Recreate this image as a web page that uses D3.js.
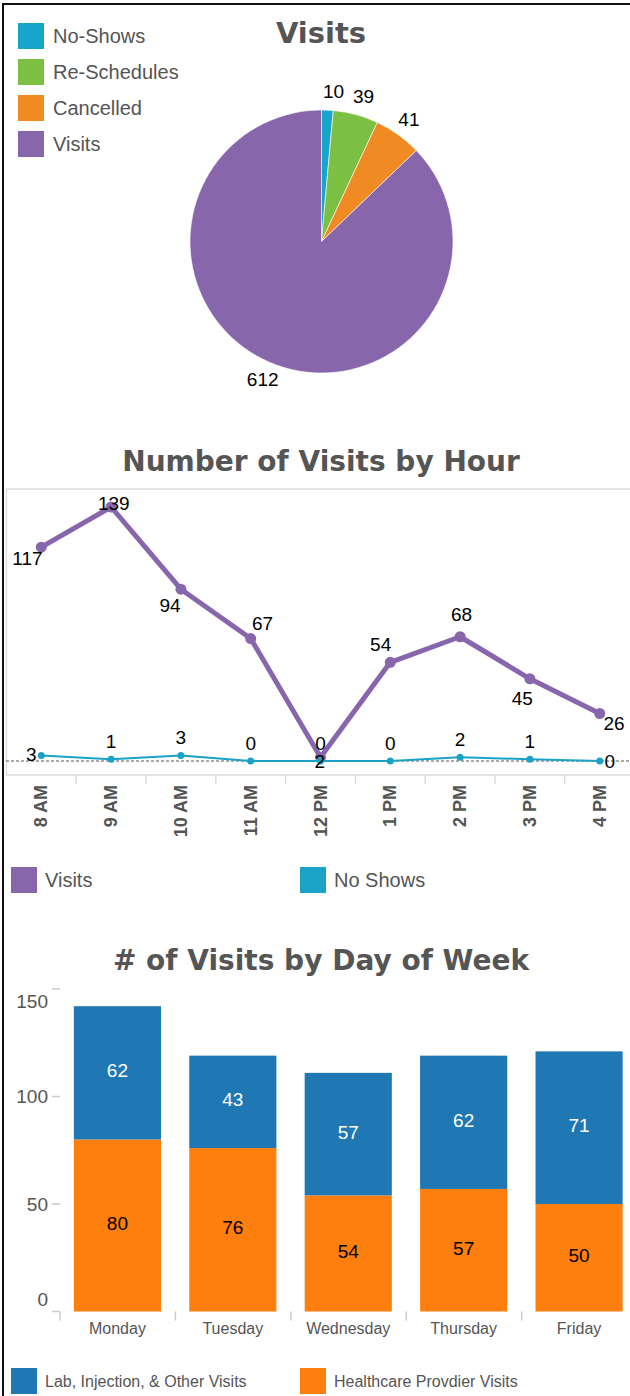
<!DOCTYPE html>
<html><head><meta charset="utf-8">
<script src="https://cdn.jsdelivr.net/npm/d3@7"></script>
<style>
body{margin:0;background:#fff;}
svg{display:block;font-family:"Liberation Sans",Arial,sans-serif;}
.title{font-family:"DejaVu Sans",Verdana,sans-serif;font-weight:bold;fill:#555;}
</style></head><body>
<svg id="c" width="630" height="1396"></svg>
<script>
// ---------- data ----------
const pieCategories = ["No-Shows","Re-Schedules","Cancelled","Visits"];
const pieValues = [10,39,41,612];
const pieColors = ["#17a6c9","#7bbf43","#ef8b22","#8866ab"];

const hours = ["8 AM","9 AM","10 AM","11 AM","12 PM","1 PM","2 PM","3 PM","4 PM"];
const visitsByHour = [117,139,94,67,2,54,68,45,26];
const noShowsByHour = [3,1,3,0,0,0,2,1,0];
const lineSeriesNames = ["Visits","No Shows"];
const lineColors = ["#8866ab","#1aa3c7"];

const days = ["Monday","Tuesday","Wednesday","Thursday","Friday"];
const providerVisits = [80,76,54,57,50];
const labVisits = [62,43,57,62,71];
const barSeriesNames = ["Lab, Injection, & Other Visits","Healthcare Provdier Visits"];
const barColors = ["#1f77b4","#ff7f0e"];
const dayTicks = [0,50,100,150];

const svg = d3.select("#c");
const grey = "#555";

// outer border
svg.append("rect").attr("x",3).attr("y",4).attr("width",700).attr("height",1500)
  .attr("fill","none").attr("stroke","#111").attr("stroke-width",2);

// ---------- Chart 1: pie ----------
svg.append("text").attr("class","title").attr("x",321).attr("y",33)
  .attr("text-anchor","middle").attr("dominant-baseline","central")
  .style("font-size","29px").text("Visits");

const pieData = pieCategories.map((c,i)=>({name:c,value:pieValues[i],color:pieColors[i]}));
const pie = d3.pie().sort(null).value(d=>d.value);
const arcs = pie(pieData);
const R = 131.5;
const arc = d3.arc().innerRadius(0).outerRadius(R);
const labelArc = d3.arc().innerRadius(150).outerRadius(150);
const pg = svg.append("g").attr("transform","translate(321.5,241.5)");
pg.selectAll("path").data(arcs).join("path")
  .attr("d",arc).attr("fill",d=>d.data.color).attr("stroke","#fff").attr("stroke-width",0.6);
// outside labels, nudged apart horizontally when neighbours are close
const labPos = arcs.map(d=>labelArc.centroid(d));
for(let i=1;i<labPos.length;i++){
  const a=labPos[i-1], b=labPos[i];
  if(Math.abs(a[1]-b[1])<20 && b[0]-a[0]<30 && b[0]>=a[0]){ a[0]-=0; b[0]=a[0]+30; }
}
if(labPos[0][0] < 12) { const s = 12-labPos[0][0]; labPos[0][0]+=s; labPos[1][0]=Math.max(labPos[1][0],labPos[0][0]+30); }
pg.selectAll("text").data(arcs).join("text")
  .attr("transform",(d,i)=>`translate(${labPos[i]})`)
  .attr("text-anchor","middle").attr("dominant-baseline","central")
  .style("font-size","19px").attr("fill","#000")
  .text(d=>d.data.value);

const lg1 = svg.append("g");
pieData.forEach((d,i)=>{
  const g = lg1.append("g").attr("transform",`translate(18,${23+i*36})`);
  g.append("rect").attr("width",26).attr("height",26).attr("fill",d.color);
  g.append("text").attr("x",35).attr("y",13).attr("dominant-baseline","central")
    .style("font-size","20px").attr("fill",grey).text(d.name);
});

// ---------- Chart 2: line by hour ----------
svg.append("text").attr("class","title").attr("x",321).attr("y",461)
  .attr("text-anchor","middle").attr("dominant-baseline","central")
  .style("font-size","28px").text("Number of Visits by Hour");

const plotTop = 489, plotBottom = 775;
const xH = d3.scaleBand().domain(hours).range([6.4,634.6]).padding(0);
const xc = h => xH(h)+xH.bandwidth()/2;
const yH = d3.scaleLinear().domain([0,d3.max(visitsByHour)]).range([761,507]);

svg.append("rect").attr("x",6.4).attr("y",plotTop).attr("width",700).attr("height",plotBottom-plotTop)
  .attr("fill","none").attr("stroke","#ddd").attr("stroke-width",1.5);

// tick marks between categories
svg.append("g").selectAll("line").data(hours.slice(1)).join("line")
  .attr("x1",d=>xH(d)).attr("x2",d=>xH(d)).attr("y1",plotBottom).attr("y2",plotBottom+9)
  .attr("stroke","#ddd").attr("stroke-width",1.5);
svg.append("g").selectAll("text").data(hours).join("text")
  .attr("transform",d=>`translate(${xc(d)},785) rotate(-90)`)
  .attr("text-anchor","end").attr("dominant-baseline","central")
  .style("font-size","18px").style("font-weight","bold").attr("fill",grey).text(d=>d);

// zero line
svg.append("line").attr("x1",6).attr("x2",630).attr("y1",yH(0)).attr("y2",yH(0))
  .attr("stroke","#555").attr("stroke-dasharray","3,2").attr("stroke-width",1);

const line = d3.line().x((d,i)=>xc(hours[i])).y(d=>yH(d));
const series = [
  {name:lineSeriesNames[0], values:visitsByHour, color:lineColors[0], w:5, r:5.5, rx:16, ry:22, upOnly:false},
  {name:lineSeriesNames[1], values:noShowsByHour, color:lineColors[1], w:2, r:3.5, rx:10, ry:18, upOnly:true}
];
series.forEach(s=>{
  svg.append("path").attr("d",line(s.values)).attr("fill","none")
    .attr("stroke",s.color).attr("stroke-width",s.w).attr("stroke-linejoin","round");
  svg.append("g").selectAll("circle").data(s.values).join("circle")
    .attr("cx",(d,i)=>xc(hours[i])).attr("cy",d=>yH(d)).attr("r",s.r).attr("fill",s.color);
});
// labels placed away from the line (exterior bisector), kept inside the value area
series.forEach(s=>{
  const pts = s.values.map((v,i)=>[xc(hours[i]),yH(v)]);
  const n = pts.length;
  const lab = svg.append("g");
  pts.forEach((p,i)=>{
    let sx=0, sy=0;
    [i-1,i+1].forEach(j=>{
      if(j<0||j>=n) return;
      const dx=pts[j][0]-p[0], dy=pts[j][1]-p[1], L=Math.hypot(dx,dy);
      sx+=dx/L; sy+=dy/L;
    });
    let ux=-sx, uy=-sy;
    const interior = i>0 && i<n-1;
    if(s.upOnly && interior){ ux=0; uy=-1; }
    const L=Math.hypot(ux,uy)||1; ux/=L; uy/=L;
    let lx=p[0]+ux*s.rx, ly=p[1]+uy*s.ry;
    ly=Math.min(Math.max(ly,plotTop+14),yH(0));
    lab.append("text").attr("x",lx).attr("y",ly).attr("text-anchor","middle")
      .attr("dominant-baseline","central").style("font-size","19px").attr("fill","#000")
      .text(s.values[i]);
  });
});

// legend 2
lineSeriesNames.forEach((nm,i)=>{
  const g = svg.append("g").attr("transform",`translate(${11+i*289},867)`);
  g.append("rect").attr("width",26).attr("height",26).attr("fill",lineColors[i]);
  g.append("text").attr("x",34).attr("y",13).attr("dominant-baseline","central")
    .style("font-size","20px").attr("fill",grey).text(nm);
});

// ---------- Chart 3: stacked bars ----------
svg.append("text").attr("class","title").attr("x",321).attr("y",960)
  .attr("text-anchor","middle").attr("dominant-baseline","central")
  .style("font-size","28px").text("# of Visits by Day of Week");

const xD = d3.scaleBand().domain(days).range([60,636.5]).paddingInner(0.245).paddingOuter(0.12);
const yD = d3.scaleLinear().domain([0,150]).range([1311.5,989]);
const step = xD.step();

// y ticks
const yAx = svg.append("g");
dayTicks.forEach((t,i)=>{
  yAx.append("line").attr("x1",52).attr("x2",60).attr("y1",yD(t)).attr("y2",yD(t))
    .attr("stroke","#ccc").attr("stroke-width",1.5);
  const shift = i===0 ? -12 : (i===dayTicks.length-1 ? 12 : 0);
  yAx.append("text").attr("x",48).attr("y",yD(t)+shift).attr("text-anchor","end")
    .attr("dominant-baseline","central").style("font-size","19px").attr("fill",grey).text(t);
});
// x ticks
svg.append("g").selectAll("line").data(d3.range(days.length)).join("line")
  .attr("x1",i=>60+i*step).attr("x2",i=>60+i*step).attr("y1",yD(0)).attr("y2",yD(0)+9)
  .attr("stroke","#ccc").attr("stroke-width",1.5);
svg.append("g").selectAll("text").data(days).join("text")
  .attr("x",d=>xD(d)+xD.bandwidth()/2).attr("y",1328).attr("text-anchor","middle")
  .attr("dominant-baseline","central").style("font-size","16px").attr("fill",grey).text(d=>d);

const table = days.map((d,i)=>({day:d, provider:providerVisits[i], lab:labVisits[i]}));
const stack = d3.stack().keys(["provider","lab"])(table);
const segColor = {provider:barColors[1], lab:barColors[0]};
const segText = {provider:"#000", lab:"#fff"};
stack.forEach(layer=>{
  const g = svg.append("g");
  g.selectAll("rect").data(layer).join("rect")
    .attr("x",d=>xD(d.data.day)).attr("width",xD.bandwidth())
    .attr("y",d=>yD(d[1])).attr("height",d=>yD(d[0])-yD(d[1]))
    .attr("fill",segColor[layer.key]);
  g.selectAll("text").data(layer).join("text")
    .attr("x",d=>xD(d.data.day)+xD.bandwidth()/2).attr("y",d=>(yD(d[0])+yD(d[1]))/2-2)
    .attr("text-anchor","middle").attr("dominant-baseline","central")
    .style("font-size","19px").attr("fill",segText[layer.key]).text(d=>d.data[layer.key]);
});

// legend 3
barSeriesNames.forEach((nm,i)=>{
  const g = svg.append("g").attr("transform",`translate(${11+i*289},1368)`);
  g.append("rect").attr("width",26).attr("height",26).attr("fill",barColors[i]);
  g.append("text").attr("x",34).attr("y",13).attr("dominant-baseline","central")
    .style("font-size","16px").attr("fill",grey).text(nm);
});
</script>
</body></html>
